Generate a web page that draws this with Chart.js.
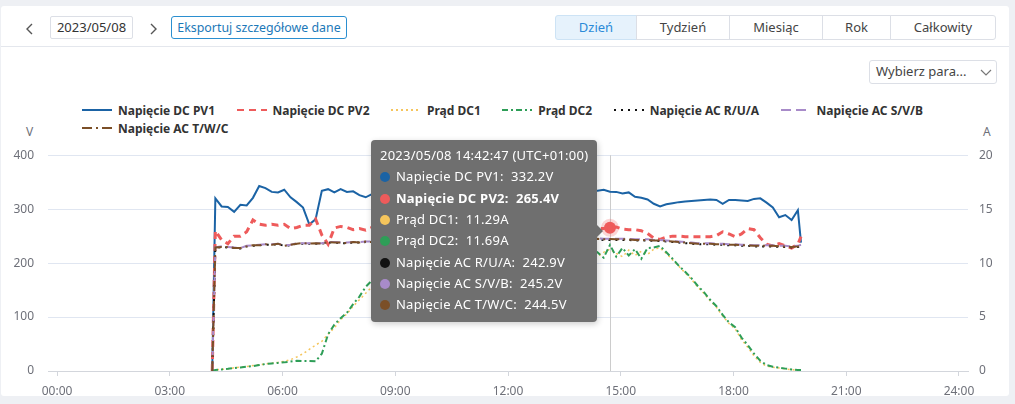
<!DOCTYPE html>
<html lang="pl">
<head>
<meta charset="utf-8">
<title>Napięcie i prąd – 2023/05/08</title>
<script src="https://cdn.jsdelivr.net/npm/chart.js@4.4.0/dist/chart.umd.min.js"></script>
<style>
  body { margin: 0; background: #eef0f4; font-family: "Noto Sans", sans-serif; color: #333; }
  #page { position: relative; width: 1015px; height: 404px; overflow: hidden; }
  .panel { position: absolute; left: 1px; top: 6px; width: 1008px; height: 390px; background: #fff; border-radius: 3px; }
  .divider { position: absolute; left: 1px; top: 46px; width: 1008px; height: 1px; background: #e4e7ed; }
  .chev { position: absolute; }
  .box { position: absolute; box-sizing: border-box; border: 1px solid #dcdfe6; border-radius: 2px;
         font-size: 13px; line-height: 21px; text-align: center; background: #fff; }
  #export { border-color: #2b8fd0; color: #1b78b8; border-radius: 3px; font-size: 12.4px; }
  .seg { position: absolute; top: 15px; height: 25px; box-sizing: border-box; border: 1px solid #dcdfe6;
         font-size: 13px; line-height: 23px; text-align: center; color: #444; background: #fff; }
  .seg.on { background: #e6f2fc; color: #2a8ad8; border-color: #cde3f5; }
  #select { text-align: left; padding-left: 6px; border-radius: 3px; color: #444; }
  .unit { position: absolute; top: 123px; font-size: 12px; color: #6e7079; }
  #legend { position: absolute; left: 82px; top: 101px; width: 885px; display: flex; flex-wrap: wrap; }
  .item { display: flex; align-items: center; height: 18px; margin-right: 21.5px; font-size: 12px;
          font-weight: bold; color: #333; }
  .item svg { margin-right: 6px; }
  #chartBox { position: absolute; left: 0; top: 134px; width: 1015px; height: 268px; }
  #tip { position: absolute; display: none; background: #6f6f6f; color: #fff; border-radius: 4px;
         padding: 5px 9px 7px 9px; font-size: 13px; line-height: 21.3px; letter-spacing: 0.25px; white-space: nowrap;
         box-shadow: 1px 2px 6px rgba(0,0,0,0.2); }
  #tip::after { content: ""; position: absolute; right: -6px; top: 50%; margin-top: -6px;
                border-top: 6px solid transparent; border-bottom: 6px solid transparent; border-left: 6px solid #6f6f6f; }
  #tip .dot { display: inline-block; width: 10px; height: 10px; border-radius: 50%; margin-right: 6px;
              vertical-align: -1px; }
  #tip .bold { font-weight: bold; }
</style>
</head>
<body>
<div id="page">
  <div class="panel"></div>
  <div class="divider"></div>

  <svg class="chev" style="left:25px;top:23px" width="10" height="12"><polyline points="7,1 2,6 7,11" fill="none" stroke="#555" stroke-width="1.4"/></svg>
  <div class="box" style="left:50px;top:16px;width:83px;height:23px">2023/05/08</div>
  <svg class="chev" style="left:148px;top:23px" width="10" height="12"><polyline points="3,1 8,6 3,11" fill="none" stroke="#555" stroke-width="1.4"/></svg>
  <div class="box" id="export" style="left:171px;top:16px;width:176px;height:23px">Eksportuj szczegółowe dane</div>

  <div class="seg on" style="left:555px;width:82px;border-radius:3px 0 0 3px">Dzień</div>
  <div class="seg" style="left:636px;width:94px">Tydzień</div>
  <div class="seg" style="left:729px;width:94px">Miesiąc</div>
  <div class="seg" style="left:822px;width:69px">Rok</div>
  <div class="seg" style="left:890px;width:106px;border-radius:0 3px 3px 0">Całkowity</div>

  <div class="box" id="select" style="left:869px;top:60px;width:128px;height:24px">Wybierz para...</div>
  <svg class="chev" style="left:980px;top:67px" width="12" height="10"><polyline points="1,3 6,8 11,3" fill="none" stroke="#777" stroke-width="1.2"/></svg>

  <div id="legend"></div>
  <div class="unit" style="left:26px">V</div>
  <div class="unit" style="left:983px">A</div>

  <div id="chartBox"><canvas id="myChart" width="1015" height="268"></canvas></div>
  <div id="tip"></div>
</div>

<script>
// sample times (every 10 min, logger keeps the :47 seconds)
const times = [
  '04:07:47', '04:12:47', '04:22:47', '04:32:47', '04:42:47', '04:52:47',
  '05:02:47', '05:12:47', '05:22:47', '05:32:47', '05:42:47', '05:52:47',
  '06:02:47', '06:12:47', '06:22:47', '06:32:47', '06:42:47', '06:52:47',
  '07:02:47', '07:12:47', '07:22:47', '07:32:47', '07:42:47', '07:52:47',
  '08:02:47', '08:12:47', '08:22:47', '08:32:47', '08:42:47', '08:52:47',
  '09:02:47', '09:12:47', '09:22:47', '09:32:47', '09:42:47', '09:52:47',
  '10:02:47', '10:12:47', '10:22:47', '10:32:47', '10:42:47', '10:52:47',
  '11:02:47', '11:12:47', '11:22:47', '11:32:47', '11:42:47', '11:52:47',
  '12:02:47', '12:12:47', '12:22:47', '12:32:47', '12:42:47', '12:52:47',
  '13:02:47', '13:12:47', '13:22:47', '13:32:47', '13:42:47', '13:52:47',
  '14:02:47', '14:12:47', '14:22:47', '14:32:47', '14:42:47', '14:52:47',
  '15:02:47', '15:12:47', '15:22:47', '15:32:47', '15:42:47', '15:52:47',
  '16:02:47', '16:12:47', '16:22:47', '16:32:47', '16:42:47', '16:52:47',
  '17:02:47', '17:12:47', '17:22:47', '17:32:47', '17:42:47', '17:52:47',
  '18:02:47', '18:12:47', '18:22:47', '18:32:47', '18:42:47', '18:52:47',
  '19:02:47', '19:12:47', '19:22:47', '19:32:47', '19:42:47', '19:47:47'
]

const pv1 = [
  0, 320, 305, 304, 295, 308, 307, 321, 343, 339, 332, 331, 336, 322, 313, 303, 272, 281, 334, 337,
  331, 337, 332, 333, 326, 322, 328, 333, 336, 334, 337, 335, 338, 336, 339, 337, 335, 338, 336, 334,
  337, 335, 333, 336, 334, 337, 335, 333, 336, 334, 332, 335, 333, 336, 334, 332, 335, 333, 336, 334,
  332, 335, 334, 336, 332.2, 332, 329, 331, 323, 321, 318, 310, 305, 309, 311, 313, 314, 315, 316, 317,
  318, 317, 310, 317, 317, 316, 315, 319, 320, 312, 303, 285, 289, 280, 298, 238
]
const pv2 = [
  0, 260, 243, 236, 250, 250, 258, 280, 272, 270, 272, 270, 272, 264, 266, 270, 270, 282, 252, 235,
  265, 268, 266, 262, 264, 261, 266, 268, 265, 270, 267, 264, 268, 271, 266, 263, 267, 270, 265, 262,
  266, 269, 264, 267, 270, 266, 263, 267, 269, 265, 262, 266, 268, 264, 267, 269, 265, 262, 266, 268,
  265, 263, 264, 264, 265.4, 267, 263, 262, 262, 260, 255, 246, 244, 248, 250, 250, 249, 249, 249, 249,
  249, 251, 258, 254, 249, 254, 264, 262, 247, 235, 232, 236, 232, 228, 235, 249
]
const dc1 = [
  0, 0.1, 0.15, 0.2, 0.3, 0.35, 0.42, 0.5, 0.58, 0.65, 0.72, 0.8, 0.9, 1.05, 1.3, 1.6, 2.0, 2.4, 2.75, 3.4,
  4.0, 4.75, 5.3, 6.0, 6.6, 7.2, 7.8, 8.3, 8.8, 9.2, 9.6, 9.9, 10.2, 10.5, 10.7, 10.9, 11.0, 11.1, 11.2, 11.3,
  11.2, 11.4, 11.3, 11.5, 11.4, 11.5, 11.3, 11.6, 11.4, 11.5, 11.3, 11.2, 11.5, 11.0, 11.4, 10.7, 11.3, 10.9, 10.6, 11.2,
  10.8, 11.1, 10.6, 11.0, 11.29, 10.9, 10.6, 11.2, 10.7, 11.1, 10.8, 11.3, 11.4, 10.9, 10.3, 9.7, 9.1, 8.5, 7.8, 7.2,
  6.5, 5.9, 5.1, 4.4, 3.9, 2.9, 2.2, 1.4, 0.8, 0.45, 0.35, 0.28, 0.2, 0.12, 0.08, 0.05
]
const dc2 = [
  0, 0.1, 0.15, 0.2, 0.28, 0.33, 0.4, 0.45, 0.55, 0.65, 0.7, 0.75, 0.8, 0.88, 0.95, 0.93, 0.93, 0.9, 1.6, 3.4,
  4.3, 4.9, 5.4, 6.2, 6.9, 7.8, 8.4, 8.9, 9.3, 9.7, 10.0, 10.3, 10.5, 10.8, 11.0, 11.1, 11.3, 11.4, 11.5, 11.6,
  11.5, 11.7, 11.6, 11.8, 11.7, 11.8, 11.6, 11.9, 11.7, 11.8, 11.6, 11.5, 11.8, 11.3, 11.7, 10.9, 11.6, 11.2, 10.8, 11.5,
  11.0, 11.4, 11.0, 10.5, 11.69, 10.6, 11.4, 10.7, 11.3, 10.4, 11.4, 11.45, 11.6, 11.0, 10.4, 9.75, 9.2, 8.6, 7.9, 7.3,
  6.6, 6.0, 5.2, 4.5, 4.05, 3.1, 2.4, 1.6, 0.95, 0.55, 0.4, 0.32, 0.22, 0.15, 0.1, 0.1
]
const acR = [
  0, 228, 230, 229, 228, 227, 231, 232, 233, 234, 234, 235, 232, 233, 236, 236, 236, 236, 236, 238,
  238, 237, 237, 238, 238, 239, 238, 239, 239, 239, 240, 239, 240, 240, 241, 240, 241, 241, 241, 242,
  241, 242, 242, 242, 243, 242, 243, 243, 242, 243, 243, 244, 243, 243, 244, 243, 244, 243, 244, 243,
  244, 243, 244, 243, 242.9, 243, 243, 243, 242, 242, 242, 241, 241, 240, 239, 238, 237, 236, 235, 235,
  235, 234, 234, 233, 233, 232, 232, 231, 231, 231, 231, 230, 230, 229, 230, 232
]
const acS = [
  0, 229, 231, 230, 229, 228, 232, 233, 234, 235, 235, 236, 233, 234, 237, 237, 237, 237, 237, 239,
  239, 238, 238, 239, 239, 240, 240, 241, 241, 241, 242, 241, 242, 242, 243, 242, 243, 243, 243, 244,
  243, 244, 244, 244, 245, 244, 245, 245, 244, 245, 245, 246, 245, 245, 246, 245, 246, 245, 246, 245,
  246, 245, 246, 245, 245.2, 245, 245, 245, 244, 244, 244, 243, 243, 242, 241, 240, 239, 238, 237, 237,
  237, 236, 236, 235, 235, 234, 234, 233, 233, 233, 233, 232, 232, 231, 232, 234
]
const acT = [
  0, 229, 230, 230, 228, 228, 231, 233, 233, 235, 234, 236, 232, 234, 236, 237, 236, 237, 236, 239,
  238, 238, 237, 239, 238, 240, 239, 240, 241, 240, 242, 240, 241, 241, 242, 241, 242, 242, 242, 243,
  242, 243, 243, 243, 244, 243, 244, 244, 243, 244, 244, 245, 244, 244, 245, 244, 245, 244, 245, 244,
  245, 244, 245, 244, 244.5, 244, 244, 244, 243, 243, 243, 242, 242, 241, 240, 239, 238, 237, 236, 236,
  236, 235, 235, 234, 234, 233, 233, 232, 232, 232, 232, 231, 231, 230, 231, 233
]

const seriesNames = ['Napięcie DC PV1', 'Napięcie DC PV2', 'Prąd DC1', 'Prąd DC2', 'Napięcie AC R/U/A', 'Napięcie AC S/V/B', 'Napięcie AC T/W/C']
const seriesValues = [pv1, pv2, dc1, dc2, acR, acS, acT]
const units = ['V', 'V', 'A', 'A', 'V', 'V', 'V']
const xTickValues = [0, 3, 6, 9, 12, 15, 18, 21, 24]
const xTickLabels = ['00:00', '03:00', '06:00', '09:00', '12:00', '15:00', '18:00', '21:00', '24:00']
const hoverTime = '14:42:47'

const styles = [
  { color: '#1b63a5', width: 2, dash: [] },
  { color: '#ee5b5b', width: 3, dash: [7, 5] },
  { color: '#f5c55c', width: 1.5, dash: [2, 3] },
  { color: '#2e9e57', width: 2, dash: [6, 3, 2, 3] },
  { color: '#111111', width: 2, dash: [2, 5] },
  { color: '#a88bc9', width: 2, dash: [10, 5] },
  { color: '#7b4f27', width: 2, dash: [10, 4, 2, 4] }
]

function toHours(t){
  const [h, m, s] = t.split(':').map(Number)
  return h + m / 60 + s / 3600
}

// html legend, ECharts-like (rows start on the left)
const legend = document.querySelector('#legend')
seriesNames.forEach((name, i) => {
  const st = styles[i]
  const item = document.createElement('div')
  item.className = 'item'
  item.innerHTML = `<svg width="30" height="10"><line x1="0" y1="5" x2="30" y2="5" stroke="${st.color}" stroke-width="2" stroke-dasharray="${st.dash.join(',')}"/></svg>${name}`
  legend.appendChild(item)
})

const crosshair = {
  id: 'crosshair',
  beforeDatasetsDraw(chart){
    const act = chart.tooltip ? chart.tooltip.getActiveElements() : []
    if (!act.length) return
    const x = Math.round(act[0].element.x) + 0.5
    const { top, bottom } = chart.chartArea
    const c = chart.ctx
    c.save()
    c.strokeStyle = '#cccccc'
    c.lineWidth = 1
    c.beginPath()
    c.moveTo(x, top)
    c.lineTo(x, bottom)
    c.stroke()
    c.restore()
  }
}

function renderTooltip({ chart, tooltip }){
  const tip = document.querySelector('#tip')
  if (!tooltip.opacity || !tooltip.dataPoints || !tooltip.dataPoints.length) {
    tip.style.display = 'none'
    return
  }
  const hovered = chart.getActiveElements().map(a => a.datasetIndex)
  const points = tooltip.dataPoints.slice().sort((a, b) => a.datasetIndex - b.datasetIndex)
  let html = `<div>2023/05/08 ${times[points[0].dataIndex]} (UTC+01:00)</div>`
  points.forEach(p => {
    const i = p.datasetIndex
    const val = p.parsed.y.toFixed(units[i] === 'A' ? 2 : 1) + units[i]
    html += `<div class="${hovered.includes(i) ? 'bold' : ''}"><span class="dot" style="background:${styles[i].color}"></span>${seriesNames[i]}:&nbsp;&nbsp;${val}</div>`
  })
  tip.innerHTML = html
  tip.style.display = 'block'
  const box = chart.canvas.parentNode
  tip.style.left = (box.offsetLeft + tooltip.caretX - tip.offsetWidth - 13) + 'px'
  tip.style.top = (box.offsetTop + tooltip.caretY - tip.offsetHeight / 2 - 2) + 'px'
}

const ctx = document.querySelector('#myChart')
const chart = new Chart(ctx, {
  type: 'line',
  data: {
    datasets: seriesNames.map((name, i) => ({
      label: name,
      data: times.map((t, k) => ({ x: toHours(t), y: seriesValues[i][k] })),
      yAxisID: units[i] === 'A' ? 'y1' : 'y',
      borderColor: styles[i].color,
      backgroundColor: styles[i].color,
      borderWidth: styles[i].width,
      borderDash: styles[i].dash,
      pointRadius: 0,
      pointHoverRadius: 6,
      pointHoverBorderWidth: 6,
      pointHoverBackgroundColor: styles[i].color,
      pointHoverBorderColor: styles[i].color + '40',
      tension: 0,
      fill: false,
      order: seriesNames.length - i
    }))
  },
  options: {
    responsive: false,
    animation: false,
    events: [],
    layout: { padding: 0 },
    plugins: {
      legend: { display: false },
      tooltip: { enabled: false, mode: 'index', intersect: false, external: renderTooltip }
    },
    scales: {
      x: {
        type: 'linear',
        min: -0.24,
        max: 24.24,
        afterBuildTicks: s => { s.ticks = xTickValues.map(v => ({ value: v })) },
        afterFit: s => { s.height = 31 },
        ticks: {
          autoSkip: false,
          maxRotation: 0,
          padding: 8,
          color: '#6e7079',
          font: { family: 'Noto Sans', size: 12 },
          callback: v => xTickLabels[xTickValues.indexOf(v)]
        },
        grid: { drawOnChartArea: false, tickLength: 5, tickColor: '#d3d6dc' },
        border: { color: '#d3d6dc' }
      },
      y: {
        position: 'left',
        min: 0,
        max: 400,
        afterFit: s => { s.width = 48 },
        ticks: { stepSize: 100, padding: 14, color: '#6e7079', font: { family: 'Noto Sans', size: 12 } },
        grid: { color: '#e0e6f1', drawTicks: false },
        border: { display: false }
      },
      y1: {
        position: 'right',
        min: 0,
        max: 20,
        afterFit: s => { s.width = 47 },
        ticks: { stepSize: 5, padding: 11, color: '#6e7079', font: { family: 'Noto Sans', size: 12 } },
        grid: { drawOnChartArea: false, drawTicks: false },
        border: { display: false }
      }
    }
  },
  plugins: [crosshair]
})

// show the same hover state as the screenshot (14:42:47, pointer on PV2)
const idx = times.indexOf(hoverTime)
chart.setActiveElements([{ datasetIndex: 1, index: idx }])
const pt = chart.getDatasetMeta(1).data[idx]
chart.tooltip.setActiveElements(seriesNames.map((n, i) => ({ datasetIndex: i, index: idx })), { x: pt.x, y: pt.y })
chart.update()
</script>
</body>
</html>
